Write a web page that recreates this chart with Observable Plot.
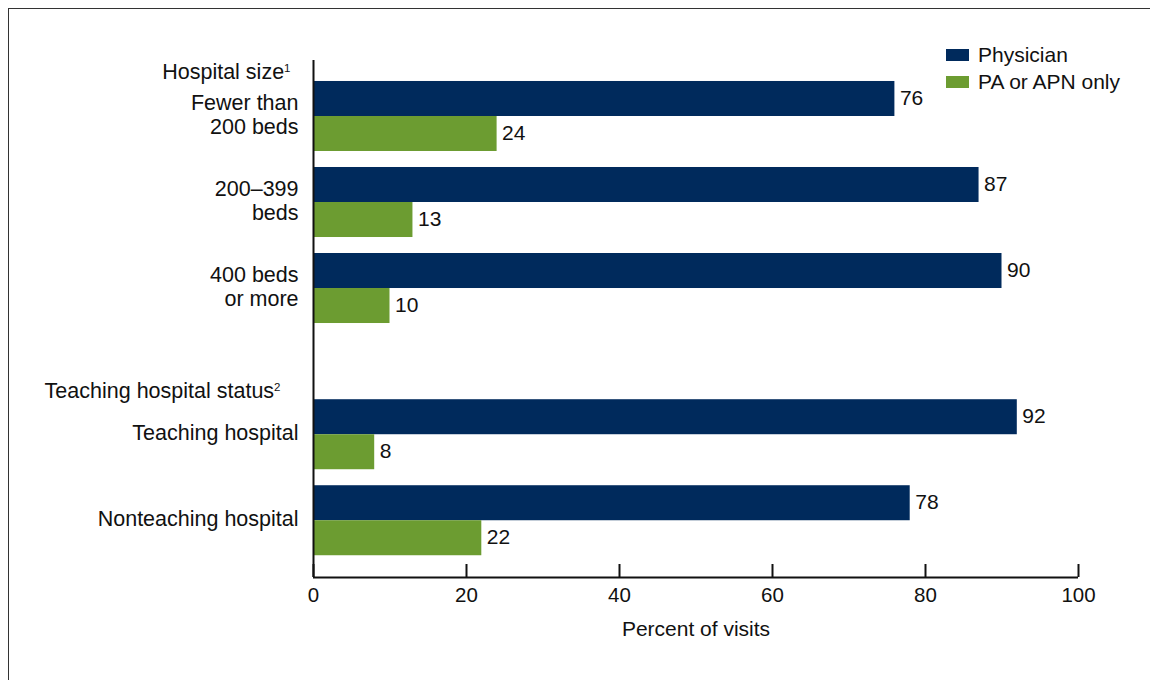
<!DOCTYPE html>
<html>
<head>
<meta charset="utf-8">
<script src="https://cdn.jsdelivr.net/npm/d3@7"></script>
<script src="https://cdn.jsdelivr.net/npm/@observablehq/plot@0.6"></script>
<style>
  html, body { margin: 0; padding: 0; background: #fff; }
  body { width: 1150px; height: 680px; position: relative; overflow: hidden;
         font-family: "Liberation Sans", Arial, Helvetica, sans-serif; color: #111; }
  #frame { position: absolute; left: 8px; top: 8px; width: 1300px; height: 900px;
           border: 1.5px solid #333; box-sizing: border-box; pointer-events: none; }
  #chart { position: absolute; left: 0; top: 0; }
  #legend { position: absolute; left: 946px; top: 41px; font-size: 21px; line-height: 27px; }
  #legend .row { display: flex; align-items: center; height: 27px; }
  #legend .sw { width: 23px; height: 12px; margin-right: 9px; }
</style>
</head>
<body>
<div id="frame"></div>
<div id="chart"></div>
<div id="legend"></div>
<script>
// ---- data ----
const sections = ["Hospital size¹", "Teaching hospital status²"];
const categories = ["Fewer than\n200 beds", "200–399\nbeds", "400 beds\nor more", "Teaching hospital", "Nonteaching hospital"];
const categorySection = [0, 0, 0, 1, 1];
const series = ["Physician", "PA or APN only"];
const physician = [76, 87, 90, 92, 78];
const paOrApn = [24, 13, 10, 8, 22];
const xTicks = [0, 20, 40, 60, 80, 100];
const colors = ["#002a5c", "#6c9c31"];

// ---- layout (in group-step units) ----
const barSize = 0.407;     // one bar's thickness, as a fraction of a group step
const sectionGap = 0.7;    // extra space before a new section
const headerOffset = 0.105;
const yTop = -0.244, yBottom = 5.767;

const groupTop = categories.map((c, i) => i + categorySection[i] * sectionGap);
const sectionTop = sections.map((s, k) => groupTop[categorySection.indexOf(k)]);

const groups = categories.map((c, i) => ({label: c, top: groupTop[i], center: groupTop[i] + barSize}));
const rows = [];
categories.forEach((c, i) => {
  [physician, paOrApn].forEach((vals, j) => {
    rows.push({category: c, series: series[j], value: vals[i],
               y1: groupTop[i] + j * barSize, y2: groupTop[i] + (j + 1) * barSize});
  });
});
const headers = sections.map((s, k) => ({label: s, y: sectionTop[k] - headerOffset}));

const font = '"Liberation Sans", Arial, Helvetica, sans-serif';

const chart = Plot.plot({
  width: 1150,
  height: 680,
  marginLeft: 313,
  marginRight: 72,
  marginTop: 60,
  marginBottom: 103,
  style: {fontFamily: font, fontSize: "20.5px", color: "#111", background: "transparent", overflow: "visible"},
  x: {domain: [0, 100], ticks: xTicks, tickSize: 0, tickPadding: 10, label: null},
  y: {domain: [yBottom, yTop], axis: null},
  color: {domain: series, range: colors},
  marks: [
    Plot.rect(rows, {x1: 0, x2: "value", y1: "y1", y2: "y2", fill: "series"}),
    Plot.text(rows, {x: "value", y: d => (d.y1 + d.y2) / 2, text: d => String(d.value), textAnchor: "start", dx: 5, dy: -1, fontSize: 21, fill: "#111"}),
    Plot.text(groups, {x: 0, y: "center", text: "label", textAnchor: "end", dx: -15, dy: -2, lineHeight: 1.12, fontSize: 21.5, fill: "#111"}),
    Plot.text(headers.slice(0, 1), {x: 0, y: "y", text: "label", textAnchor: "end", dx: -23, fontSize: 21.5, fill: "#111"}),
    Plot.text(headers.slice(1), {x: 0, y: "y", text: "label", textAnchor: "end", dx: -33, fontSize: 21.5, fill: "#111"}),
    Plot.ruleX([0], {stroke: "#111", strokeWidth: 2}),
    Plot.ruleY([yBottom], {stroke: "#111", strokeWidth: 2}),
    Plot.tickX(xTicks, {x: d => d, stroke: "#111", strokeWidth: 2, insetTop: 504}),
    Plot.text(["Percent of visits"], {frameAnchor: "bottom", dy: 58, fontSize: 21, fill: "#111"})
  ]
});

// render trailing superscript characters as small raised digits
const supMap = {"¹": "1", "²": "2"};
chart.querySelectorAll("text").forEach(t => {
  if (t.children.length) return;
  const s = t.textContent;
  const last = s.slice(-1);
  if (supMap[last]) {
    t.textContent = s.slice(0, -1);
    const sp = document.createElementNS("http://www.w3.org/2000/svg", "tspan");
    sp.setAttribute("font-size", "11.5");
    sp.setAttribute("dy", "-7");
    sp.textContent = supMap[last];
    t.appendChild(sp);
  }
});
document.getElementById("chart").appendChild(chart);

// legend
const legend = document.getElementById("legend");
series.forEach((s, i) => {
  const row = document.createElement("div");
  row.className = "row";
  const sw = document.createElement("span");
  sw.className = "sw";
  sw.style.background = colors[i];
  const t = document.createElement("span");
  t.textContent = s;
  row.appendChild(sw);
  row.appendChild(t);
  legend.appendChild(row);
});
</script>
</body>
</html>
